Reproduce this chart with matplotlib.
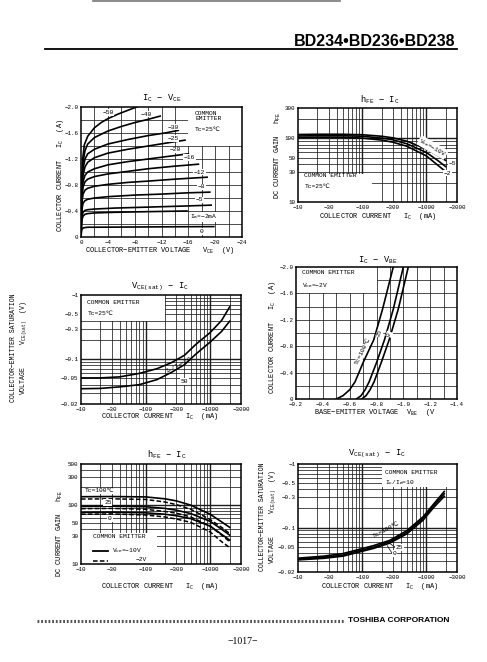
import numpy as np
import matplotlib
matplotlib.use("Agg")
import matplotlib.pyplot as plt
from matplotlib.patches import Rectangle

plt.rcParams['font.family'] = ['Liberation Mono', 'DejaVu Sans']
plt.rcParams['mathtext.default'] = 'regular'

# ---------------- data ----------------
# (1) IC - VCE  (V, A)
vce_ib50 = [0, -0.1, -0.25, -0.5, -1, -2, -3, -4, -5.5, -7, -8.3]
ic_ib50 = [0, -0.8, -1.2, -1.42, -1.55, -1.68, -1.76, -1.82, -1.89, -1.95, -2.0]
vce_ib40 = [0, -0.1, -0.3, -0.6, -1, -2, -4, -6, -8, -10, -11.8]
ic_ib40 = [0, -0.75, -1.15, -1.33, -1.43, -1.53, -1.63, -1.70, -1.76, -1.81, -1.86]
vce_ib30 = [0, -0.1, -0.3, -0.6, -1, -2, -4, -7, -10, -12.5, -14.5]
ic_ib30 = [0, -0.7, -1.05, -1.2, -1.28, -1.35, -1.43, -1.5, -1.56, -1.60, -1.64]
vce_ib25 = [0, -0.1, -0.3, -0.6, -1, -2, -4, -7, -10, -13, -15.5]
ic_ib25 = [0, -0.65, -0.95, -1.08, -1.15, -1.22, -1.29, -1.35, -1.40, -1.45, -1.49]
vce_ib20 = [0, -0.1, -0.3, -0.6, -1, -2, -4, -7, -10, -13, -16]
ic_ib20 = [0, -0.6, -0.85, -0.95, -1.0, -1.05, -1.11, -1.16, -1.20, -1.24, -1.28]
vce_ib16 = [0, -0.1, -0.3, -0.6, -1, -2, -4, -7, -10, -14, -17.5]
ic_ib16 = [0, -0.55, -0.77, -0.85, -0.89, -0.93, -0.97, -1.01, -1.05, -1.09, -1.12]
vce_ib12 = [0, -0.1, -0.3, -0.6, -1, -2, -4, -7, -10, -14, -18.8]
ic_ib12 = [0, -0.5, -0.66, -0.72, -0.75, -0.78, -0.81, -0.84, -0.86, -0.89, -0.92]
vce_ib8 = [0, -0.1, -0.3, -0.6, -1, -2, -4, -8, -12, -16, -19.2]
ic_ib8 = [0, -0.4, -0.52, -0.56, -0.58, -0.60, -0.62, -0.645, -0.66, -0.68, -0.69]
vce_ib5 = [0, -0.1, -0.3, -0.6, -1, -2, -5, -10, -15, -19.4]
ic_ib5 = [0, -0.3, -0.38, -0.41, -0.42, -0.43, -0.445, -0.46, -0.475, -0.49]
vce_ib2 = [0, -0.1, -0.3, -0.6, -1, -2, -5, -10, -15.8]
ic_ib2 = [0, -0.25, -0.32, -0.35, -0.36, -0.37, -0.38, -0.39, -0.40]
vce_ib0 = [0, -0.1, -0.3, -0.6, -1, -5, -10, -15, -19.8]
ic_ib0 = [0, -0.11, -0.14, -0.145, -0.15, -0.152, -0.155, -0.158, -0.16]
ib_labels = ["−50", "−40", "−30", "−25", "−20", "−16", "−12", "−8", "−5",
             "I$_B$=−2mA", "0"]
p1_xticks = [0, -4, -8, -12, -16, -20, -24]
p1_xlabels = ["0", "−4", "−8", "−12", "−16", "−20", "−24"]
p1_yticks = [0, -0.4, -0.8, -1.2, -1.6, -2.0]
p1_ylabels = ["0", "−0.4", "−0.8", "−1.2", "−1.6", "−2.0"]

# (2) hFE - IC, VCE = -10, -5, -2 V
p2_ic = [10, 20, 50, 100, 200, 300, 500, 1000, 1500, 2000]
p2_hfe_10 = [115, 116, 116, 114, 108, 102, 90, 68, 54, 45]
p2_hfe_5 = [109, 110, 110, 108, 101, 95, 82, 60, 45, 36]
p2_hfe_2 = [103, 104, 104, 101, 94, 87, 75, 53, 38, 30]
ic_ticks = [10, 30, 100, 300, 1000, 3000]
ic_labels = ["−10", "−30", "−100", "−300", "−1000", "−3000"]
p2_yticks = [10, 30, 50, 100, 300]
p2_ylabels = ["10", "30", "50", "100", "300"]

# (3) VCE(sat) - IC, Tc = 25 C
p3_ic = [10, 20, 40, 80, 150, 250, 400, 600, 1000, 1500, 2000]
p3_v_upper = [0.051, 0.051, 0.053, 0.060, 0.071, 0.088, 0.115, 0.17, 0.26, 0.40, 0.65]
p3_v_lower = [0.0346, 0.035, 0.037, 0.040, 0.048, 0.062, 0.082, 0.12, 0.185, 0.27, 0.39]
vsat_ticks = [1, 0.5, 0.3, 0.1, 0.05, 0.02]
vsat_labels = ["−1", "−0.5", "−0.3", "−0.1", "−0.05", "−0.02"]

# (4) IC - VBE
p4_ic = [0, -0.05, -0.14, -0.26, -0.55, -0.90, -1.36, -2.0]
p4_vbe_100 = [-0.50, -0.55, -0.60, -0.64, -0.70, -0.78, -0.845, -0.925]
p4_vbe_25 = [-0.65, -0.685, -0.715, -0.745, -0.80, -0.86, -0.925, -1.0]
p4_vbe_0 = [-0.69, -0.722, -0.752, -0.782, -0.835, -0.895, -0.962, -1.037]
p4_xticks = [-0.2, -0.4, -0.6, -0.8, -1.0, -1.2, -1.4]
p4_xlabels = ["−0.2", "−0.4", "−0.6", "−0.8", "−1.0", "−1.2", "−1.4"]
p4_yticks = [0, -0.4, -0.8, -1.2, -1.6, -2.0]
p4_ylabels = ["0", "−0.4", "−0.8", "−1.2", "−1.6", "−2.0"]

# (5) hFE - IC vs temperature (solid VCE=-10V, dashed VCE=-2V)
p5_ic = [10, 30, 100, 200, 300, 500, 1000, 1500, 2000]
p5_100_s = [139, 140, 138, 128, 118, 100, 70, 52, 42]
p5_100_d = [127, 128, 125, 113, 102, 85, 57, 42, 33]
p5_25_s = [95, 96, 94, 88, 82, 72, 53, 39, 31]
p5_25_d = [87, 88, 85, 78, 73, 63, 44, 31, 24]
p5_0_s = [75, 76, 74, 70, 66, 59, 44, 32, 25.5]
p5_0_d = [70, 71, 68, 63, 58, 51, 35, 24, 19]
p5_yticks = [10, 30, 50, 100, 300, 500]
p5_ylabels = ["10", "30", "50", "100", "300", "500"]

# (6) VCE(sat) - IC vs temperature, IC/IB = 10
p6_ic = [10, 25, 50, 80, 150, 270, 500, 890, 1300, 1900]
p6_v_100 = [0.033, 0.0355, 0.039, 0.044, 0.052, 0.063, 0.090, 0.148, 0.235, 0.37]
p6_v_25 = [0.032, 0.034, 0.037, 0.042, 0.049, 0.060, 0.085, 0.140, 0.222, 0.34]
p6_v_0 = [0.031, 0.0328, 0.0355, 0.040, 0.047, 0.057, 0.080, 0.131, 0.207, 0.31]

# ---------------- figure ----------------
W, H = 487, 662
fig = plt.figure(figsize=(W / 100, H / 100), dpi=100, facecolor='white')

TICK = 4.2
LAB = 5.0
TIT = 6.3


def axes_px(l, t, r, b):
    ax = fig.add_axes([l / W, 1 - b / H, (r - l) / W, (b - t) / H])
    for s in ax.spines.values():
        s.set_linewidth(1.1)
        s.set_zorder(5)
    ax.tick_params(length=0, labelsize=TICK, pad=2)
    return ax


def ftext(x, y, s, **kw):
    return fig.text(x / W, 1 - y / H, s, **kw)


GC = '#1e1e1e'
GRID = dict(color=GC, lw=0.55, zorder=1)


def lin_grid(ax, xs, ys):
    for x in xs:
        ax.axvline(x, **GRID)
    for y in ys:
        ax.axhline(y, **GRID)


def log_vals(lo, hi):
    vals = []
    e = int(np.floor(np.log10(lo)))
    while 10.0 ** e <= hi:
        for m in range(1, 10):
            v = m * 10.0 ** e
            if lo * 1.001 < v < hi * 0.999:
                vals.append((v, m == 1))
        e += 1
    return vals


def log_grid(ax, xlo, xhi, ylo, yhi):
    for v, major in log_vals(xlo, xhi):
        ax.axvline(v, color=GC, lw=1.0 if major else 0.55, zorder=1)
    for v, major in log_vals(ylo, yhi):
        ax.axhline(v, color=GC, lw=1.0 if major else 0.55, zorder=1)


def mask(ax, x0, y0, x1, y1):
    ax.add_patch(Rectangle((x0, y0), x1 - x0, y1 - y0, facecolor='white',
                           edgecolor='none', zorder=1.5))


WB = dict(facecolor='white', edgecolor='none', pad=0.6)
CK = dict(color='black', lw=1.2, zorder=3)
SMALL = TICK + 0.3

# ---- (1) IC - VCE ----
ax1 = axes_px(81, 107, 242, 237)
ax1.set_xlim(0, -24)
ax1.set_ylim(0, -2.0)
lin_grid(ax1, np.arange(-2, -24, -2), np.arange(-0.2, -2.0, -0.2))
mask(ax1, -16, -1.4, -24, -2.0)
for vv, ii in [(vce_ib50, ic_ib50), (vce_ib40, ic_ib40), (vce_ib30, ic_ib30),
               (vce_ib25, ic_ib25), (vce_ib20, ic_ib20), (vce_ib16, ic_ib16),
               (vce_ib12, ic_ib12), (vce_ib8, ic_ib8), (vce_ib5, ic_ib5),
               (vce_ib2, ic_ib2), (vce_ib0, ic_ib0)]:
    ax1.plot(vv, ii, **CK)
p1_lab_pos = [(-4.0, -1.92), (-9.8, -1.89), (-13.7, -1.69), (-13.7, -1.52),
              (-14.0, -1.34), (-16.2, -1.22), (-17.7, -1.0), (-18.0, -0.77),
              (-17.7, -0.57), (-18.3, -0.31), (-17.9, -0.08)]
for (x, y), s in zip(p1_lab_pos, ib_labels):
    ax1.text(x, y, s, fontsize=SMALL, ha='center', va='center', bbox=WB, zorder=4)
ax1.text(-17.0, -1.94, "COMMON\nEMITTER\n\nTc=25℃", fontsize=SMALL,
         ha='left', va='top', linespacing=1.1, zorder=4)
ax1.set_xticks(p1_xticks)
ax1.set_xticklabels(p1_xlabels)
ax1.set_yticks(p1_yticks)
ax1.set_yticklabels(p1_ylabels)
ftext(162, 98, "I$_C$ − V$_{CE}$", fontsize=TIT, ha='center', va='center')
ftext(60, 175, "COLLECTOR CURRENT   I$_C$  (A)", fontsize=LAB, rotation=90,
      ha='center', va='center')
ftext(160, 251, "COLLECTOR−EMITTER VOLTAGE   V$_{CE}$  (V)", fontsize=LAB,
      ha='center', va='center')

# ---- (2) hFE - IC ----
ax2 = axes_px(298, 108, 457, 202)
ax2.set_xscale('log')
ax2.set_yscale('log')
ax2.set_xlim(10, 3000)
ax2.set_ylim(10, 300)
log_grid(ax2, 10, 3000, 10, 300)
mask(ax2, 10, 10, 140, 28)
ax2.plot(p2_ic, p2_hfe_10, **CK)
ax2.plot(p2_ic, p2_hfe_5, **CK)
ax2.plot(p2_ic, p2_hfe_2, **CK)
ax2.text(1250, 72, "V$_{CE}$=−10V", fontsize=SMALL, rotation=-30,
         ha='center', va='center', bbox=WB, zorder=4)
ax2.text(2550, 40, "−5", fontsize=SMALL, ha='center', va='center', bbox=WB, zorder=4)
ax2.text(2150, 28.5, "−2", fontsize=SMALL, ha='center', va='center', bbox=WB, zorder=4)
ax2.text(12.5, 21.5, "COMMON EMITTER\n\nTc=25℃", fontsize=SMALL,
         ha='left', va='center', linespacing=1.1, zorder=4)
ax2.set_xticks(ic_ticks)
ax2.set_xticklabels(ic_labels)
ax2.set_yticks(p2_yticks)
ax2.set_yticklabels(p2_ylabels)
ax2.minorticks_off()
ftext(380, 100, "h$_{FE}$ − I$_C$", fontsize=TIT, ha='center', va='center')
ftext(278, 155, "DC CURRENT GAIN   h$_{FE}$", fontsize=LAB, rotation=90,
      ha='center', va='center')
ftext(378, 217, "COLLECTOR CURRENT   I$_C$  (mA)", fontsize=LAB,
      ha='center', va='center')

# ---- (3) VCE(sat) - IC ----
ax3 = axes_px(81, 295, 241, 404)
ax3.set_xscale('log')
ax3.set_yscale('log')
ax3.set_xlim(10, 3000)
ax3.set_ylim(0.02, 1)
log_grid(ax3, 10, 3000, 0.02, 1)
mask(ax3, 10, 0.4, 200, 1)
ax3.plot(p3_ic, p3_v_upper, **CK)
ax3.plot(p3_ic, p3_v_lower, **CK)
ax3.text(330, 0.082, "I$_C$/I$_B$=20", fontsize=SMALL, rotation=28,
         ha='center', va='center', zorder=4)
ax3.text(400, 0.045, "50", fontsize=SMALL, ha='center', va='center',
         bbox=WB, zorder=4)
ax3.text(12.5, 0.62, "COMMON EMITTER\n\nTc=25℃", fontsize=SMALL,
         ha='left', va='center', linespacing=1.1, zorder=4)
ax3.set_xticks(ic_ticks)
ax3.set_xticklabels(ic_labels)
ax3.set_yticks(vsat_ticks)
ax3.set_yticklabels(vsat_labels)
ax3.minorticks_off()
ftext(160, 287, "V$_{CE(sat)}$ − I$_C$", fontsize=TIT, ha='center', va='center')
ftext(14, 348, "COLLECTOR−EMITTER SATURATION", fontsize=4.7, rotation=90,
      ha='center', va='center')
ftext(24, 348, "VOLTAGE      V$_{CE(sat)}$  (V)", fontsize=4.7, rotation=90,
      ha='center', va='center')
ftext(160, 417, "COLLECTOR CURRENT   I$_C$  (mA)", fontsize=LAB,
      ha='center', va='center')

# ---- (4) IC - VBE ----
ax4 = axes_px(296, 267, 457, 399)
ax4.set_xlim(-0.2, -1.4)
ax4.set_ylim(0, -2.0)
lin_grid(ax4, np.arange(-0.3, -1.4, -0.1), np.arange(-0.2, -2.0, -0.2))
mask(ax4, -0.2, -1.6, -0.8, -2.0)
ax4.plot(p4_vbe_100, p4_ic, **CK)
ax4.plot(p4_vbe_25, p4_ic, **CK)
ax4.plot(p4_vbe_0, p4_ic, **CK)
ax4.text(-0.70, -0.72, "Tc=100℃", fontsize=SMALL, rotation=64,
         ha='center', va='center', bbox=WB, zorder=4)
ax4.text(-0.825, -1.0, "25", fontsize=SMALL, rotation=70,
         ha='center', va='center', bbox=WB, zorder=4)
ax4.text(-0.895, -0.98, "0", fontsize=SMALL, rotation=70,
         ha='center', va='center', bbox=WB, zorder=4)
ax4.text(-0.245, -1.8, "COMMON EMITTER\n\nV$_{CE}$=−2V", fontsize=SMALL,
         ha='left', va='center', linespacing=1.1, zorder=4)
ax4.set_xticks(p4_xticks)
ax4.set_xticklabels(p4_xlabels)
ax4.set_yticks(p4_yticks)
ax4.set_yticklabels(p4_ylabels)
ftext(378, 260, "I$_C$ − V$_{BE}$", fontsize=TIT, ha='center', va='center')
ftext(272, 337, "COLLECTOR CURRENT   I$_C$  (A)", fontsize=LAB, rotation=90,
      ha='center', va='center')
ftext(375, 413, "BASE−EMITTER VOLTAGE  V$_{BE}$  (V", fontsize=LAB,
      ha='center', va='center')

# ---- (5) hFE - IC vs Tc ----
ax5 = axes_px(81, 464, 241, 564)
ax5.set_xscale('log')
ax5.set_yscale('log')
ax5.set_xlim(10, 3000)
ax5.set_ylim(10, 500)
log_grid(ax5, 10, 3000, 10, 500)
mask(ax5, 10, 10, 150, 34)
for ys, dashed in [(p5_100_s, False), (p5_100_d, True), (p5_25_s, False),
                   (p5_25_d, True), (p5_0_s, False), (p5_0_d, True)]:
    if dashed:
        ax5.plot(p5_ic, ys, color='black', lw=1.1, dashes=(3, 1.5), zorder=3)
    else:
        ax5.plot(p5_ic, ys, **CK)
ax5.text(11.5, 175, "Tc=100℃", fontsize=SMALL, ha='left', va='center',
         bbox=WB, zorder=4)
ax5.text(26, 110, "25", fontsize=SMALL, ha='center', va='center',
         bbox=WB, zorder=4)
ax5.text(28, 60, "0", fontsize=SMALL, ha='center', va='center',
         bbox=WB, zorder=4)
ax5.text(0.075, 0.27, "COMMON EMITTER", transform=ax5.transAxes,
         fontsize=SMALL, ha='left', va='center', zorder=4)
ax5.plot([0.075, 0.17], [0.13, 0.13], transform=ax5.transAxes, color='black',
         lw=1.3, zorder=4)
ax5.plot([0.075, 0.17], [0.035, 0.035], transform=ax5.transAxes, color='black',
         lw=1.1, dashes=(3, 1.5), zorder=4)
ax5.text(0.195, 0.13, "V$_{CE}$=−10V", transform=ax5.transAxes,
         fontsize=SMALL, ha='left', va='center', zorder=4)
ax5.text(0.34, 0.045, "−2V", transform=ax5.transAxes,
         fontsize=SMALL, ha='left', va='center', zorder=4)
ax5.set_xticks(ic_ticks)
ax5.set_xticklabels(ic_labels)
ax5.set_yticks(p5_yticks)
ax5.set_yticklabels(p5_ylabels)
ax5.minorticks_off()
ftext(167, 455, "h$_{FE}$ − I$_C$", fontsize=TIT, ha='center', va='center')
ftext(60, 533, "DC CURRENT GAIN   h$_{FE}$", fontsize=LAB, rotation=90,
      ha='center', va='center')
ftext(160, 586, "COLLECTOR CURRENT   I$_C$  (mA)", fontsize=LAB,
      ha='center', va='center')

# ---- (6) VCE(sat) - IC vs Tc ----
ax6 = axes_px(298, 464, 457, 572)
ax6.set_xscale('log')
ax6.set_yscale('log')
ax6.set_xlim(10, 3000)
ax6.set_ylim(0.02, 1)
log_grid(ax6, 10, 3000, 0.02, 1)
mask(ax6, 200, 0.44, 3000, 1)
ax6.plot(p6_ic, p6_v_100, **CK)
ax6.plot(p6_ic, p6_v_25, **CK)
ax6.plot(p6_ic, p6_v_0, **CK)
ax6.text(235, 0.092, "Tc=100℃", fontsize=SMALL, rotation=28,
         ha='center', va='center', zorder=4)
ax6.text(330, 0.049, "25", fontsize=SMALL, ha='left', va='center',
         bbox=WB, zorder=4)
ax6.text(300, 0.039, "0", fontsize=SMALL, ha='left', va='center',
         bbox=WB, zorder=4)
ax6.plot([320, 270], [0.050, 0.056], color='black', lw=0.5, zorder=4)
ax6.plot([290, 245], [0.040, 0.052], color='black', lw=0.5, zorder=4)
ax6.text(0.55, 0.92, "COMMON EMITTER", transform=ax6.transAxes,
         fontsize=SMALL, ha='left', va='center', zorder=4)
ax6.text(0.55, 0.83, "I$_C$/I$_B$=10", transform=ax6.transAxes,
         fontsize=SMALL, ha='left', va='center', zorder=4)
ax6.set_xticks(ic_ticks)
ax6.set_xticklabels(ic_labels)
ax6.set_yticks(vsat_ticks)
ax6.set_yticklabels(vsat_labels)
ax6.minorticks_off()
ftext(377, 454, "V$_{CE(sat)}$ − I$_C$", fontsize=TIT, ha='center', va='center')
ftext(263, 517, "COLLECTOR−EMITTER SATURATION", fontsize=4.7, rotation=90,
      ha='center', va='center')
ftext(273, 517, "VOLTAGE      V$_{CE(sat)}$  (V)", fontsize=4.7, rotation=90,
      ha='center', va='center')
ftext(380, 586, "COLLECTOR CURRENT   I$_C$  (mA)", fontsize=LAB,
      ha='center', va='center')

# ---- page decorations ----
ftext(455, 46, "BD234•BD236•BD238", fontsize=11.5, fontweight='bold',
      family='Liberation Sans', ha='right', va='baseline')
fig.add_artist(plt.Line2D([45 / W, 457 / W], [1 - 49 / H, 1 - 49 / H],
                          color='black', lw=1.3))
fig.add_artist(plt.Line2D([93 / W, 340 / W], [1 - 0.8 / H, 1 - 0.8 / H],
                          color='#777777', lw=1.2))
fig.add_artist(plt.Line2D([37 / W, 345 / W], [1 - 621 / H, 1 - 621 / H],
                          color='#555555', lw=2.2, dashes=(0.6, 0.6)))
ftext(348, 621, "TOSHIBA CORPORATION", fontsize=6, fontweight='bold',
      family='Liberation Sans', ha='left', va='center')
ftext(243, 641, "−1017−", fontsize=7, family='Liberation Serif',
      ha='center', va='center')

fig.savefig("out.png", dpi=100, facecolor='white')
